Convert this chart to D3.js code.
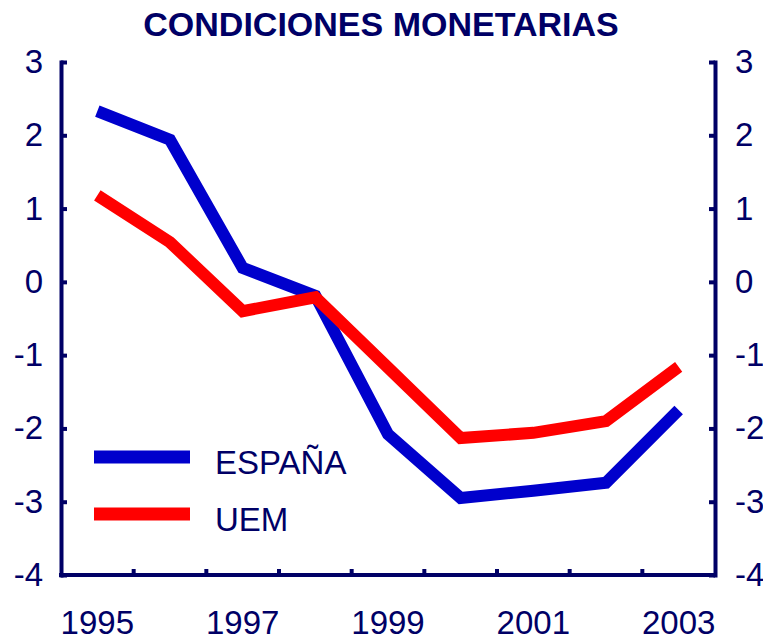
<!DOCTYPE html>
<html>
<head>
    <meta charset="utf-8">
    <script src="https://cdn.jsdelivr.net/npm/d3@7/dist/d3.min.js"></script>
    <style>
        body { margin: 0; background: #ffffff; }
        text { font-family: "Liberation Sans", Arial, sans-serif; fill: #000066; }
    </style>
</head>
<body>
    <script>
        // years on the x axis
        var years = [1995, 1996, 1997, 1998, 1999, 2000, 2001, 2002, 2003];

        // series values
        var espana = [2.33, 1.94, 0.19, -0.19, -2.08, -2.95, -2.85, -2.74, -1.75];
        var uem = [1.18, 0.54, -0.40, -0.21, -1.17, -2.13, -2.06, -1.90, -1.16];

        var yTicks = [3, 2, 1, 0, -1, -2, -3, -4];
        var xLabels = [1995, 1997, 1999, 2001, 2003];

        var seriesNames = ["ESPAÑA", "UEM"];
        var colours = ["#0000cc", "#ff0000"];

        drawChart();

        function drawChart() {

            var width = 763, height = 641;
            // plot box (note: "top" is reserved on window, so keep these local)
            var plotLeft = 61, plotRight = 715, plotTop = 62, plotBottom = 575;
            var navy = "#000066";

            var svg = d3.select("body")
                .append("svg")
                .attr("width", width)
                .attr("height", height);

            // band scale so that the points sit in the middle of each year
            var x = d3.scaleBand()
                .domain(years)
                .range([plotLeft, plotRight]);

            var y = d3.scaleLinear()
                .domain([-4, 3])
                .range([plotBottom, plotTop]);

            // title
            svg.append("text")
                .attr("x", 381)
                .attr("y", 36)
                .attr("text-anchor", "middle")
                .style("font-weight", "bold")
                .style("font-size", "34px")
                .text("CONDICIONES MONETARIAS");

            // left axis, ticks pointing inwards
            var leftAxis = svg.append("g")
                .attr("transform", "translate(" + plotLeft + ",0)")
                .call(d3.axisRight(y).tickValues(yTicks).tickSize(6).tickSizeOuter(0).tickFormat(""));

            // right axis, ticks pointing inwards
            var rightAxis = svg.append("g")
                .attr("transform", "translate(" + plotRight + ",0)")
                .call(d3.axisLeft(y).tickValues(yTicks).tickSize(6).tickSizeOuter(0).tickFormat(""));

            // bottom axis, ticks at the year boundaries pointing up
            var bounds = years.slice(1).map(d => x(d));
            var xAxisGroup = svg.append("g")
                .attr("transform", "translate(0," + plotBottom + ")");
            xAxisGroup.append("line")
                .attr("x1", plotLeft).attr("x2", plotRight)
                .attr("y1", 0).attr("y2", 0);
            xAxisGroup.selectAll("line.tk")
                .data(bounds)
                .enter()
                .append("line")
                .attr("class", "tk")
                .attr("x1", d => d).attr("x2", d => d)
                .attr("y1", 0).attr("y2", -6);

            [leftAxis, rightAxis, xAxisGroup].forEach(function (g) {
                g.selectAll("path.domain, line")
                    .attr("stroke", navy)
                    .attr("stroke-width", 4)
                    .attr("fill", "none");
                g.selectAll("path.domain").attr("stroke-linecap", "square");
            });
            xAxisGroup.select("line").attr("stroke-linecap", "square");

            // tick labels
            svg.selectAll("text.yl")
                .data(yTicks)
                .enter()
                .append("text")
                .attr("class", "yl")
                .attr("x", 43)
                .attr("y", d => y(d) + 11)
                .attr("text-anchor", "end")
                .style("font-size", "33px")
                .text(d => d);

            svg.selectAll("text.yr")
                .data(yTicks)
                .enter()
                .append("text")
                .attr("class", "yr")
                .attr("x", 735)
                .attr("y", d => y(d) + 11)
                .attr("text-anchor", "start")
                .style("font-size", "33px")
                .text(d => d);

            svg.selectAll("text.xl")
                .data(xLabels)
                .enter()
                .append("text")
                .attr("class", "xl")
                .attr("x", d => x(d) + x.bandwidth() / 2)
                .attr("y", 634)
                .attr("text-anchor", "middle")
                .style("font-size", "33px")
                .text(d => d);

            // the two lines
            var line = d3.line()
                .x((d, i) => x(years[i]) + x.bandwidth() / 2)
                .y(d => y(d));

            [espana, uem].forEach(function (s, i) {
                svg.append("path")
                    .datum(s)
                    .attr("fill", "none")
                    .attr("stroke", colours[i])
                    .attr("stroke-width", 12)
                    .attr("stroke-linejoin", "miter")
                    .attr("d", line);
            });

            // legend
            var legend = svg.append("g");
            seriesNames.forEach(function (name, i) {
                var ly = 457 + i * 57;
                legend.append("line")
                    .attr("x1", 94).attr("x2", 190)
                    .attr("y1", ly).attr("y2", ly)
                    .attr("stroke", colours[i])
                    .attr("stroke-width", 13);
                legend.append("text")
                    .attr("x", 215)
                    .attr("y", ly + 17)
                    .style("font-size", "33px")
                    .text(name);
            });
        }
    </script>
</body>
</html>
